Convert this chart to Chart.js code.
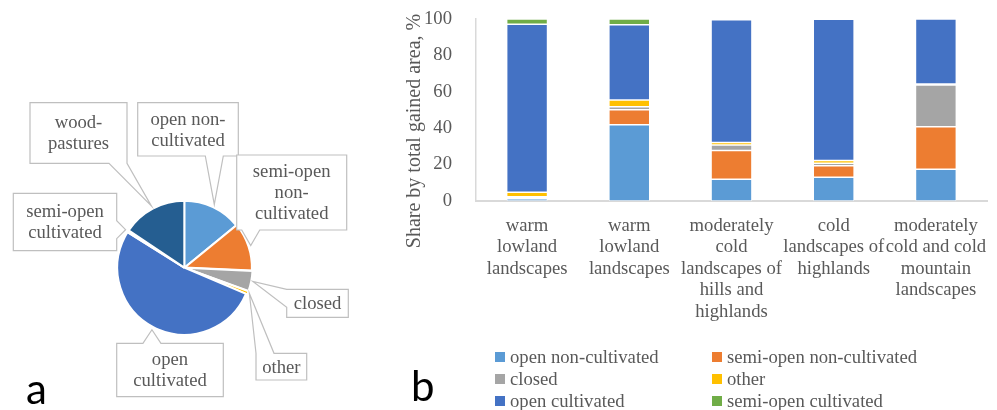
<!DOCTYPE html>
<html>
<head>
<meta charset="utf-8">
<script src="https://cdn.jsdelivr.net/npm/chart.js@4"></script>
<style>
  body { margin: 0; background: #fff; width: 997px; height: 410px; position: relative; overflow: hidden; }
  #pie { position: absolute; left: 0; top: 0; }
  #bar { position: absolute; left: 400px; top: 0; }
  .panel { position: absolute; font-family: Lato, sans-serif; font-size: 42px; line-height: 1; color: #000; }
  #legend { position: absolute; left: 495px; top: 346px; display: grid; grid-template-columns: 217px 217px;
            font-family: "Liberation Serif", serif; font-size: 18.67px; color: #595959; }
  #legend div { height: 22px; display: flex; align-items: center; white-space: nowrap; }
  #legend span { width: 10px; height: 10px; margin-right: 5px; display: inline-block; }
</style>
</head>
<body>
<canvas id="pie" width="400" height="410"></canvas>
<canvas id="bar" width="597" height="410"></canvas>
<div class="panel" style="left:26px; top:367px;">a</div>
<div class="panel" style="left:411px; top:364px;">b</div>
<div id="legend"></div>
<script>
// pie (a): whole gained area by class
const pieLabels = ['open non-cultivated', 'semi-open non-cultivated', 'closed', 'other',
                   'open cultivated', 'semi-open cultivated', 'wood-pastures'];
const pieValues = [14.1, 11.6, 4.9, 0.8, 52.5, 0.5, 15.6];
const pieColors = ['#5b9bd5', '#ed7d31', '#a5a5a5', '#ffc000', '#4472c4', '#70ad47', '#255e91'];

// bar (b): share by landscape type, %
const regions = [
    ['warm', 'lowland', 'landscapes'],
    ['warm', 'lowland', 'landscapes'],
    ['moderately', 'cold', 'landscapes of', 'hills and', 'highlands'],
    ['cold', 'landscapes of', 'highlands'],
    ['moderately', 'cold and cold', 'mountain', 'landscapes']
];
const seriesNames = ['open non-cultivated', 'semi-open non-cultivated', 'closed', 'other',
                     'open cultivated', 'semi-open cultivated'];
const openNonCult     = [1.3, 41.9, 11.9, 13.0, 17.4];
const semiOpenNonCult = [0.3, 8.3, 15.8, 6.4, 23.4];
const closedArea      = [0.8, 1.6, 3.1, 1.3, 22.9];
const otherArea       = [2.4, 3.7, 1.3, 1.5, 0.6];
const openCult        = [92.3, 41.4, 67.5, 77.6, 35.7];
const semiOpenCult    = [2.9, 3.1, 0.4, 0.2, 0.0];
const yTicks = [0, 20, 40, 60, 80, 100];
const yTitle = 'Share by total gained area, %';

const serif = '"Liberation Serif", serif';
const textGray = '#595959';

// callout boxes for the pie labels (page px), in the same order as pieLabels
const callouts = [
    { x: 137.7, y: 102.7, w: 100.6, h: 53.3, side: 'bottom' },
    { x: 236.7, y: 155,   w: 110,   h: 75,   side: 'bottom' },
    { x: 286.7, y: 289.3, w: 61.6,  h: 28,   side: 'left' },
    { x: 256,   y: 353.3, w: 50.7,  h: 26.7, side: 'top' },
    { x: 116.7, y: 343.3, w: 106.6, h: 53.4, side: 'top' },
    { x: 13.3,  y: 193.3, w: 103.4, h: 57.4, side: 'right' },
    { x: 30,    y: 102.7, w: 97,    h: 60.6, side: 'bottom' }
];

function clamp(v, a, b) { return Math.max(a, Math.min(b, v)); }

// greedy wrap, breaking at spaces and after hyphens
function wrap(ctx, text, maxW) {
    const parts = text.match(/[^\s-]+-?\s?/g);
    const lines = [];
    let cur = '';
    parts.forEach(function(p) {
        const test = cur + p;
        if (cur && ctx.measureText(test.trim()).width > maxW) {
            lines.push(cur.trim());
            cur = p;
        } else {
            cur = test;
        }
    });
    if (cur) lines.push(cur.trim());
    return lines;
}

function calloutPath(ctx, b, tip, hw) {
    const x0 = b.x, y0 = b.y, x1 = b.x + b.w, y1 = b.y + b.h;
    ctx.beginPath();
    ctx.moveTo(x0, y0);
    if (b.side === 'top') {
        const c = clamp(tip.x, x0 + hw, x1 - hw);
        ctx.lineTo(c - hw, y0); ctx.lineTo(tip.x, tip.y); ctx.lineTo(c + hw, y0);
    }
    ctx.lineTo(x1, y0);
    if (b.side === 'right') {
        const c = clamp(tip.y, y0 + hw, y1 - hw);
        ctx.lineTo(x1, c - hw); ctx.lineTo(tip.x, tip.y); ctx.lineTo(x1, c + hw);
    }
    ctx.lineTo(x1, y1);
    if (b.side === 'bottom') {
        const c = clamp(tip.x, x0 + hw, x1 - hw);
        ctx.lineTo(c + hw, y1); ctx.lineTo(tip.x, tip.y); ctx.lineTo(c - hw, y1);
    }
    ctx.lineTo(x0, y1);
    if (b.side === 'left') {
        const c = clamp(tip.y, y0 + hw, y1 - hw);
        ctx.lineTo(x0, c + hw); ctx.lineTo(tip.x, tip.y); ctx.lineTo(x0, c - hw);
    }
    ctx.closePath();
}

const calloutPlugin = {
    id: 'callouts',
    afterDatasetsDraw(chart) {
        const ctx = chart.ctx;
        const arcs = chart.getDatasetMeta(0).data;
        ctx.save();
        ctx.font = '18.67px ' + serif;
        arcs.forEach(function(arc, i) {
            const p = arc.getProps(['x', 'y', 'startAngle', 'endAngle', 'outerRadius']);
            const mid = (p.startAngle + p.endAngle) / 2;
            const tip = { x: p.x + Math.cos(mid) * (p.outerRadius + 3), y: p.y + Math.sin(mid) * (p.outerRadius + 3) };
            const b = callouts[i];
            calloutPath(ctx, b, tip, 9);
            ctx.fillStyle = '#fff';
            ctx.fill();
            ctx.strokeStyle = '#bfbfbf';
            ctx.lineWidth = 1.2;
            ctx.stroke();

            const lines = wrap(ctx, chart.data.labels[i], b.w - 12);
            const lh = 21;
            const cy = b.y + b.h / 2 - (lines.length - 1) * lh / 2;
            ctx.fillStyle = textGray;
            ctx.textAlign = 'center';
            ctx.textBaseline = 'middle';
            lines.forEach(function(l, k) { ctx.fillText(l, b.x + b.w / 2, cy + k * lh + 1); });
        });
        ctx.restore();
    }
};

const piePad = { left: 104, right: 135.4, top: 187.7, bottom: 62.3 };
const pieChart = new Chart(document.getElementById('pie'), {
    type: 'pie',
    data: {
        labels: pieLabels,
        datasets: [{
            data: pieValues,
            backgroundColor: pieColors,
            borderColor: '#fff',
            borderWidth: 2,
            offset: [0, 2, 3, 3, 0, 0, 0],
            hoverOffset: 0,
            radius: 67
        }]
    },
    options: {
        responsive: false,
        animation: false,
        layout: { padding: piePad },
        plugins: { legend: { display: false }, tooltip: { enabled: false } }
    },
    plugins: [calloutPlugin]
});

// nudge the pie so its centre sits where the reference has it
for (let k = 0; k < 2; k++) {
    const arc = pieChart.getDatasetMeta(0).data[0];
    const dx = 184.3 - arc.x, dy = 267.7 - arc.y;
    if (Math.abs(dx) < 0.2 && Math.abs(dy) < 0.2) break;
    piePad.left += dx; piePad.right -= dx; piePad.top += dy; piePad.bottom -= dy;
    pieChart.update();
}

const seriesData = [openNonCult, semiOpenNonCult, closedArea, otherArea, openCult, semiOpenCult];

const yTitlePlugin = {
    id: 'yTitle',
    afterDraw(chart) {
        const ctx = chart.ctx;
        ctx.save();
        ctx.translate(15, 131);
        ctx.rotate(-Math.PI / 2);
        ctx.font = '20px ' + serif;
        ctx.fillStyle = textGray;
        ctx.textAlign = 'center';
        ctx.textBaseline = 'middle';
        ctx.fillText(yTitle, 0, 0);
        ctx.restore();
    }
};

const barPad = { left: 6, right: 10, top: 19, bottom: 79 };
const barChart = new Chart(document.getElementById('bar'), {
    type: 'bar',
    data: {
        labels: regions,
        datasets: seriesNames.map(function(name, i) {
            return {
                label: name,
                data: seriesData[i],
                backgroundColor: pieColors[i],
                borderColor: 'rgba(255,255,255,0.75)',
                borderWidth: 0.75,
                borderSkipped: false,
                barPercentage: 0.4,
                categoryPercentage: 1
            };
        })
    },
    options: {
        responsive: false,
        animation: false,
        layout: { autoPadding: false, padding: barPad },
        plugins: { legend: { display: false }, tooltip: { enabled: false } },
        scales: {
            x: {
                stacked: true,
                grid: { display: false },
                border: { color: '#d9d9d9', width: 2 },
                ticks: {
                    color: textGray, padding: 6, maxRotation: 0, autoSkip: false,
                    font: { family: serif, size: 18.67, lineHeight: 1.15 }
                },
                afterFit: function(s) { s.height = 130; s.paddingLeft = 0; s.paddingRight = 0; }
            },
            y: {
                stacked: true,
                min: 0,
                max: 100,
                grid: { display: false },
                border: { color: '#d9d9d9', width: 1.5 },
                afterBuildTicks: function(s) { s.ticks = yTicks.map(function(v) { return { value: v }; }); },
                ticks: { color: textGray, padding: 16, font: { family: serif, size: 18.67 } },
                afterFit: function(s) { s.width = 70; s.paddingTop = 0; s.paddingBottom = 0; }
            }
        }
    },
    plugins: [yTitlePlugin]
});

// pin the plot area to the reference box (canvas px)
const target = { left: 76, top: 19, right: 587, bottom: 201 };
for (let k = 0; k < 2; k++) {
    const ca = barChart.chartArea;
    const d = Math.abs(ca.left - target.left) + Math.abs(ca.top - target.top) +
              Math.abs(ca.right - target.right) + Math.abs(ca.bottom - target.bottom);
    if (d < 0.5) break;
    barPad.left += target.left - ca.left;
    barPad.top += target.top - ca.top;
    barPad.right += ca.right - target.right;
    barPad.bottom += ca.bottom - target.bottom;
    barChart.update();
}

// legend below the bar chart, two columns
const legend = document.getElementById('legend');
barChart.data.datasets.forEach(function(ds) {
    const item = document.createElement('div');
    const sw = document.createElement('span');
    sw.style.background = ds.backgroundColor;
    item.appendChild(sw);
    item.appendChild(document.createTextNode(ds.label));
    legend.appendChild(item);
});
</script>
</body>
</html>
